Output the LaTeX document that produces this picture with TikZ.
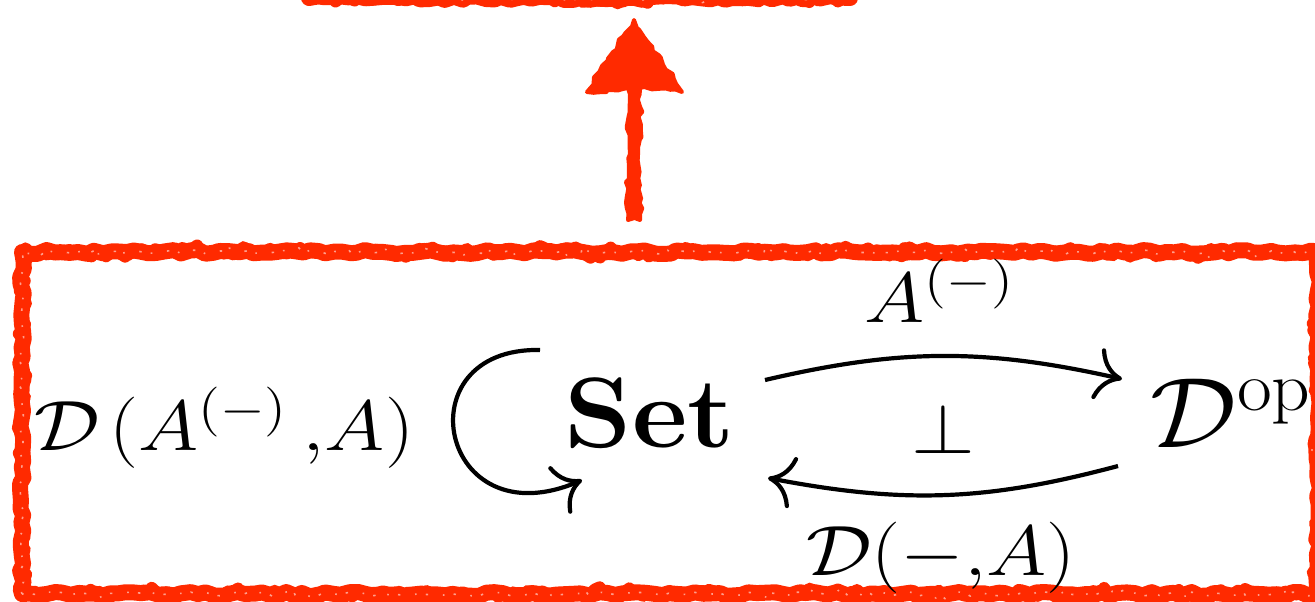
\RequirePackage{fix-cm}
\documentclass[tikz,border=0pt]{standalone}
\usepackage{amsmath,amssymb}
\usetikzlibrary{arrows.meta,decorations.pathmorphing,calc,bending}
\definecolor{rred}{RGB}{255,42,0}
\newcommand\labsize{\fontsize{17.8}{21}\selectfont}
\newcommand\objsize{\fontsize{25}{30}\selectfont}
\begin{document}
\begin{tikzpicture}[x=0.25pt,y=-0.25pt,
  crayonbox/.style={draw=rred, line width=4pt, line join=round,
    decorate, decoration={random steps, segment length=2pt, amplitude=0.5pt},
    postaction={draw=rred, line width=3pt, decorate,
      decoration={random steps, segment length=1.1pt, amplitude=1.2pt}},
    postaction={draw=white, line width=0.4pt, opacity=0.55, decorate,
      decoration={random steps, segment length=1.5pt, amplitude=1.2pt},
      dash pattern=on 0.4pt off 2.3pt on 0.6pt off 3.7pt}},
  roughfill/.style={fill=rred, draw=rred, line width=1pt, line join=round,
    decorate, decoration={random steps, segment length=1.5pt, amplitude=0.6pt}},
  obj/.style={inner sep=0pt, font=\objsize, xscale=1.08},
  lab/.style={inner sep=0pt, font=\labsize, xscale=1.15},
  cdarrow/.style={line width=1.05pt,
    -{Computer Modern Rightarrow[length=6.5pt,width=13pt]}}]
\pgfmathsetseed{7}
\clip (0,0) rectangle (1315,601);
% boxes
\node[crayonbox, minimum width=324pt, minimum height=85.5pt] (box) at (670,423) {};
\node[crayonbox, minimum width=135.25pt, minimum height=50pt] (topbox) at (579.5,-102) {};
% big arrow between the boxes
\coordinate (ax) at (634,0);
\coordinate (tail) at ($(ax |- box.north)+(0,-24)$);
\coordinate (tip) at ($(ax |- topbox.south)+(0,14)$);
\path[roughfill] ($(tail)+(-6,0)$) -- ($(tip)+(-6,68)$) -- ($(tip)+(-47,72)$) -- (tip)
  -- ($(tip)+(48,72)$) -- ($(tip)+(6,68)$) -- ($(tail)+(6,0)$) -- cycle;
% objects
\node[obj, anchor=base] (set) at (650,447) {$\mathbf{Set}$};
\node[obj, anchor=base west] (dop) at (1150,447) {$\mathcal{D}^{\mathrm{op}}$};
% labels
\node[lab, anchor=base] (la) at (940,322) {$A^{(-)}$};
\node[lab, anchor=base] (perp) at (943,453) {$\perp$};
\node[lab, anchor=base] (ld) at (941,575) {$\mathcal{D}(-{,}A)$};
\node[lab, anchor=base east] (ll) at (415,450) {$\mathcal{D}\mkern2mu(A^{(-)}\mkern3mu{,}A)$};
% arrows
\draw[cdarrow] ($(set.base)+(115,-67)$) to[bend left=13] ($(dop.base west)+(-28,-68)$);
\draw[cdarrow] ($(dop.base west)+(-32,19)$) to[bend left=13] ($(set.base)+(118,31)$);
\draw[cdarrow] ($(set.base)+(-110,-97)$) .. controls ($(set.base)+(-250,-100)$) and ($(set.base)+(-210,98)$) .. ($(set.base)+(-68,33)$);
\end{tikzpicture}
\end{document}
